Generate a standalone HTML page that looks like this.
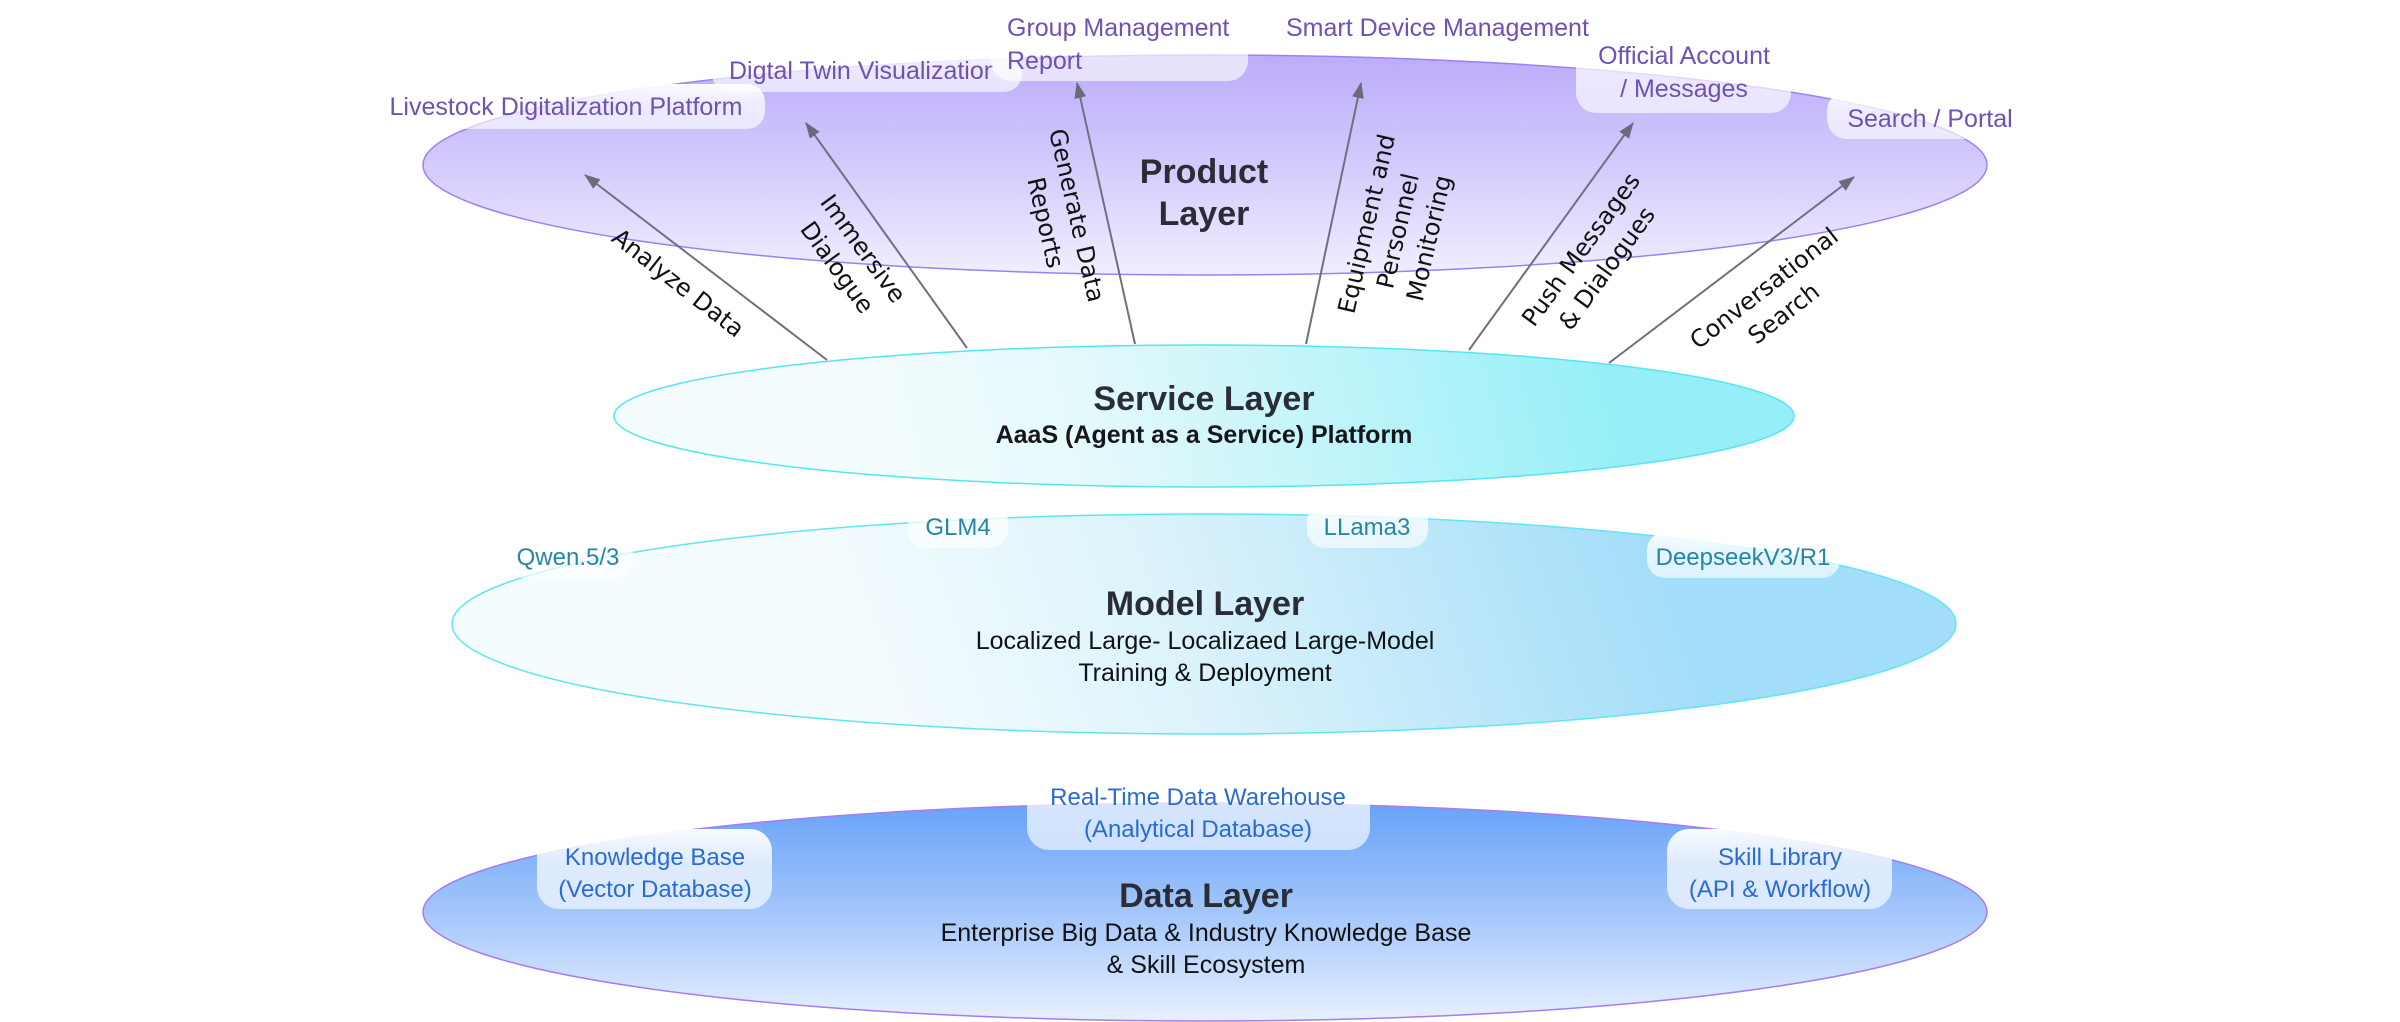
<!DOCTYPE html>
<html>
<head>
<meta charset="utf-8">
<style>
  html, body { margin: 0; padding: 0; background: #ffffff; }
  body { width: 2400px; height: 1022px; overflow: hidden; }
  svg { display: block; }
  .title { font-family: "Liberation Sans", sans-serif; font-weight: bold; font-size: 34px; fill: #2b2d36; }
  .sub { font-family: "Liberation Sans", sans-serif; font-size: 25px; fill: #111114; }
  .subb { font-family: "Liberation Sans", sans-serif; font-weight: bold; font-size: 25px; fill: #16161a; }
  .pp { font-family: "Liberation Sans", sans-serif; font-size: 25px; fill: #7050b4; }
  .pm { font-family: "Liberation Sans", sans-serif; font-size: 24px; fill: #2786a4; }
  .pd { font-family: "Liberation Sans", sans-serif; font-size: 24px; fill: #2a6bd3; }
  .al { font-family: "DejaVu Sans", "Liberation Sans", sans-serif; font-size: 24px; fill: #111111; }
</style>
</head>
<body>
<svg width="2400" height="1022" viewBox="0 0 2400 1022" xmlns="http://www.w3.org/2000/svg">
  <defs>
    <linearGradient id="gProd" x1="0" y1="55" x2="0" y2="276" gradientUnits="userSpaceOnUse">
      <stop offset="0" stop-color="#bcacfa"/>
      <stop offset="0.5" stop-color="#d4cafc"/>
      <stop offset="1" stop-color="#f2efff"/>
    </linearGradient>
    <linearGradient id="gServ" x1="880" y1="500" x2="1600" y2="330" gradientUnits="userSpaceOnUse">
      <stop offset="0" stop-color="#f4fcfd"/>
      <stop offset="0.3" stop-color="#e4f9fb"/>
      <stop offset="1" stop-color="#96eff8"/>
    </linearGradient>
    <linearGradient id="gModel" x1="880" y1="750" x2="1640" y2="490" gradientUnits="userSpaceOnUse">
      <stop offset="0" stop-color="#f4fcfe"/>
      <stop offset="0.4" stop-color="#dcf3fb"/>
      <stop offset="1" stop-color="#a2ddf9"/>
    </linearGradient>
    <linearGradient id="gData" x1="0" y1="803" x2="0" y2="1021" gradientUnits="userSpaceOnUse">
      <stop offset="0" stop-color="#68a2f8"/>
      <stop offset="0.5" stop-color="#a3c6fb"/>
      <stop offset="1" stop-color="#e8f0ff"/>
    </linearGradient>
    <linearGradient id="gPill" x1="0" y1="0" x2="0" y2="1">
      <stop offset="0" stop-color="#ffffff" stop-opacity="0.95"/>
      <stop offset="0.45" stop-color="#ffffff" stop-opacity="0.72"/>
      <stop offset="1" stop-color="#ffffff" stop-opacity="0.62"/>
    </linearGradient>
    <clipPath id="clipTwin">
      <rect x="700" y="40" width="293" height="60"/>
    </clipPath>
    <marker id="ah" markerUnits="userSpaceOnUse" markerWidth="16" markerHeight="12" refX="15" refY="6" orient="auto">
      <path d="M0,0 L16,6 L0,12 z" fill="#6a6a78"/>
    </marker>
  </defs>

  <!-- Data Layer -->
  <ellipse cx="1205" cy="912" rx="782" ry="109" fill="url(#gData)" stroke="#a57df0" stroke-width="1.5"/>
  <!-- Model Layer -->
  <ellipse cx="1204" cy="624" rx="752" ry="110" fill="url(#gModel)" stroke="#5fe6f3" stroke-width="1.5"/>
  <!-- Product Layer -->
  <ellipse cx="1205" cy="165" rx="782" ry="110" fill="url(#gProd)" stroke="#a07ef5" stroke-width="1.5"/>
  <!-- Service Layer -->
  <ellipse cx="1204" cy="416" rx="590" ry="71" fill="url(#gServ)" stroke="#52e6f4" stroke-width="1.5"/>

  <!-- Arrows -->
  <g stroke="#707080" stroke-width="2" fill="none" marker-end="url(#ah)">
    <line x1="827" y1="360" x2="585" y2="175"/>
    <line x1="967" y1="348" x2="806" y2="123"/>
    <line x1="1135" y1="344" x2="1077" y2="83"/>
    <line x1="1306" y1="344" x2="1361" y2="83"/>
    <line x1="1469" y1="350" x2="1633" y2="123"/>
    <line x1="1609" y1="363" x2="1854" y2="177"/>
  </g>

  <!-- Arrow labels -->
  <text class="al" text-anchor="middle" transform="translate(678,283) rotate(38)"><tspan x="0" y="8">Analyze Data</tspan></text>
  <text class="al" text-anchor="middle" transform="translate(850,258) rotate(54)"><tspan x="0" y="-8">Immersive</tspan><tspan x="0" y="24">Dialogue</tspan></text>
  <text class="al" text-anchor="middle" transform="translate(1061,219) rotate(77)"><tspan x="0" y="-8">Generate Data</tspan><tspan x="0" y="24">Reports</tspan></text>
  <text class="al" text-anchor="middle" transform="translate(1398,231) rotate(-77)"><tspan x="0" y="-24">Equipment  and</tspan><tspan x="0" y="8">Personnel</tspan><tspan x="0" y="40">Monitoring</tspan></text>
  <text class="al" text-anchor="middle" transform="translate(1594,259) rotate(-54)"><tspan x="0" y="-8">Push Messages</tspan><tspan x="0" y="24">&amp; Dialogues</tspan></text>
  <text class="al" text-anchor="middle" transform="translate(1774,301) rotate(-38)"><tspan x="0" y="-8">Conversational</tspan><tspan x="0" y="24">Search</tspan></text>

  <!-- Layer titles -->
  <text class="title" text-anchor="middle" x="1204" y="183">Product</text>
  <text class="title" text-anchor="middle" x="1204" y="225">Layer</text>

  <text class="title" text-anchor="middle" x="1204" y="410">Service Layer</text>
  <text class="subb" text-anchor="middle" x="1204" y="443">AaaS (Agent as a Service) Platform</text>

  <text class="title" text-anchor="middle" x="1205" y="615">Model Layer</text>
  <text class="sub" text-anchor="middle" x="1205" y="649">Localized Large- Localizaed Large-Model</text>
  <text class="sub" text-anchor="middle" x="1205" y="681">Training &amp; Deployment</text>

  <text class="title" text-anchor="middle" x="1206" y="907">Data Layer</text>
  <text class="sub" text-anchor="middle" x="1206" y="941">Enterprise Big Data &amp; Industry Knowledge Base</text>
  <text class="sub" text-anchor="middle" x="1206" y="973">&amp; Skill Ecosystem</text>

  <!-- Product pills -->
  <rect x="712" y="50" width="310" height="42" rx="18" fill="url(#gPill)"/>
  <text class="pp" x="729" y="79" clip-path="url(#clipTwin)">Digtal Twin Visualization</text>
  <rect x="375" y="84" width="390" height="45" rx="18" fill="url(#gPill)"/>
  <text class="pp" text-anchor="middle" x="566" y="115">Livestock Digitalization Platform</text>
  <rect x="991" y="-20" width="257" height="101" rx="20" fill="url(#gPill)"/>
  <rect x="991" y="-20" width="20" height="60" fill="#ffffff"/>
  <text class="pp" x="1007" y="36">Group Management</text>
  <text class="pp" x="1007" y="69">Report</text>
  <rect x="1269" y="-10" width="342" height="62" rx="18" fill="#ffffff" fill-opacity="0.9"/>
  <text class="pp" x="1286" y="36">Smart Device Management</text>
  <rect x="1576" y="36" width="215" height="77" rx="20" fill="url(#gPill)"/>
  <text class="pp" text-anchor="middle" x="1684" y="64">Official Account</text>
  <text class="pp" text-anchor="middle" x="1684" y="97">/ Messages</text>
  <rect x="1827" y="91" width="202" height="48" rx="20" fill="url(#gPill)"/>
  <text class="pp" text-anchor="middle" x="1930" y="127">Search / Portal</text>

  <!-- Model pills -->
  <rect x="505" y="532" width="128" height="46" rx="18" fill="url(#gPill)"/>
  <text class="pm" text-anchor="middle" x="568" y="565">Qwen.5/3</text>
  <rect x="908" y="504" width="100" height="44" rx="18" fill="url(#gPill)"/>
  <text class="pm" text-anchor="middle" x="958" y="535">GLM4</text>
  <rect x="1307" y="504" width="121" height="44" rx="18" fill="url(#gPill)"/>
  <text class="pm" text-anchor="middle" x="1367" y="535">LLama3</text>
  <rect x="1647" y="532" width="193" height="46" rx="18" fill="url(#gPill)"/>
  <text class="pm" text-anchor="middle" x="1743" y="565">DeepseekV3/R1</text>

  <!-- Data pills -->
  <rect x="1027" y="770" width="343" height="80" rx="22" fill="url(#gPill)"/>
  <text class="pd" text-anchor="middle" x="1198" y="805">Real-Time Data Warehouse</text>
  <text class="pd" text-anchor="middle" x="1198" y="837">(Analytical Database)</text>
  <rect x="537" y="829" width="235" height="80" rx="22" fill="url(#gPill)"/>
  <text class="pd" text-anchor="middle" x="655" y="865">Knowledge Base</text>
  <text class="pd" text-anchor="middle" x="655" y="897">(Vector Database)</text>
  <rect x="1667" y="829" width="225" height="80" rx="22" fill="url(#gPill)"/>
  <text class="pd" text-anchor="middle" x="1780" y="865">Skill Library</text>
  <text class="pd" text-anchor="middle" x="1780" y="897">(API &amp; Workflow)</text>
</svg>
</body>
</html>
